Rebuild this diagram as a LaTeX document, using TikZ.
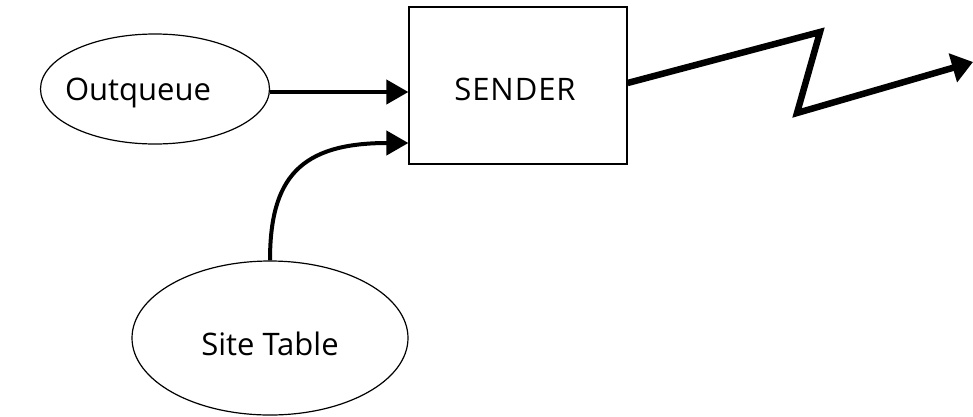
\documentclass[tikz,border=0pt]{standalone}
\usepackage{fontspec}
\setmainfont{Open Sans}
\usetikzlibrary{arrows.meta,shapes.geometric}
\begin{document}
\begin{tikzpicture}[x=1pt,y=-1pt,
  store/.style={draw,line width=1.2pt,ellipse,inner sep=0pt},
  proc/.style={draw,line width=1.2pt,rectangle,inner sep=0pt},
  caption/.style={anchor=base,inner sep=0pt,font=\fontsize{31}{36}\selectfont},
  flow/.style={line width=4pt,-{Triangle[length=22pt,width=24pt]}},
  link/.style={line width=6.5pt,line join=miter,-{Triangle[length=21pt,width=29pt]}}]
  \useasboundingbox (0,0) rectangle (973,416);
  % data stores and the sending process
  \node[store,minimum width=229pt,minimum height=110pt] (outq) at (155,89) {};
  \node[store,minimum width=276pt,minimum height=154pt] (site) at (270,338) {};
  \node[proc,minimum width=218pt,minimum height=157pt] (sender) at (518,85.5) {};
  \node[caption] (outqtext) at (138,100) {Outqueue};
  \node[caption] (sitetext) at (270,355) {Site Table};
  \node[caption] (sendertext) at (515,100) {\addfontfeatures{LetterSpace=3}SENDER};
  % inputs to the sender
  \draw[flow] (outq.east |- 0,92) -- (sender.west |- 0,92);
  \draw[flow] (site.north) .. controls (270,178) and (300,143) .. (sender.west |- 0,143);
  % outgoing network link
  \coordinate (hop1) at (820,32);
  \coordinate (hop2) at (797,113);
  \coordinate (out) at (973,62);
  \draw[link] (sender.east |- 0,83) -- (hop1) -- (hop2) -- (out);
\end{tikzpicture}
\end{document}
